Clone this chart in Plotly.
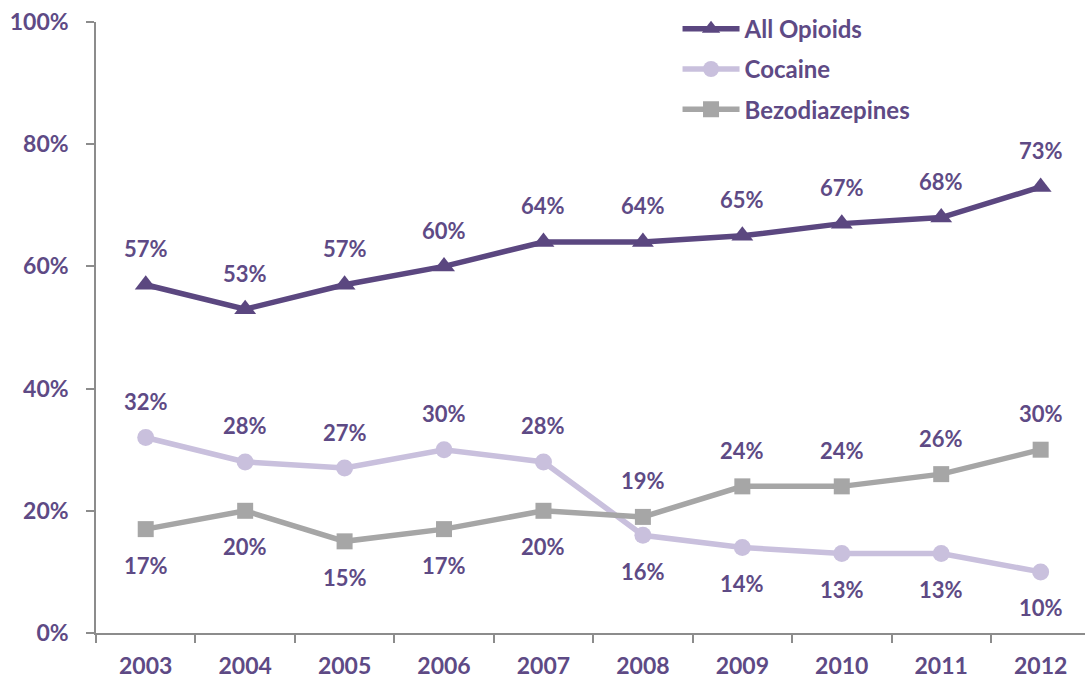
import plotly.graph_objects as go

years = ["2003", "2004", "2005", "2006", "2007", "2008", "2009", "2010", "2011", "2012"]
opioids = [57, 53, 57, 60, 64, 64, 65, 67, 68, 73]
cocaine = [32, 28, 27, 30, 28, 16, 14, 13, 13, 10]
benzo = [17, 20, 15, 17, 20, 19, 24, 24, 26, 30]
# label placement: 1 above, -1 below
opioid_pos = [1, 1, 1, 1, 1, 1, 1, 1, 1, 1]
cocaine_pos = [1, 1, 1, 1, 1, -1, -1, -1, -1, -1]
benzo_pos = [-1, -1, -1, -1, -1, 1, 1, 1, 1, 1]

TXT = "#5E4A85"
FONT = "Lato"

fig = go.Figure()
series = [
    ("All Opioids", opioids, opioid_pos, "#5B4780", dict(symbol="triangle-up", size=19)),
    ("Cocaine", cocaine, cocaine_pos, "#C9C0DD", dict(symbol="circle", size=17)),
    ("Bezodiazepines", benzo, benzo_pos, "#A6A6A6", dict(symbol="square", size=16)),
]
for i, (name, vals, pos, color, mk) in enumerate(series):
    fig.add_trace(go.Scatter(
        x=years, y=vals, name=name, mode="lines+markers",
        line=dict(color=color, width=5.5),
        marker=dict(color=color, **mk),
        legendgroup=f"g{i}",
    ))
    for j, (v, p) in enumerate(zip(vals, pos)):
        fig.add_annotation(
            x=j, y=v, xref="x", yref="y", text=f"{v}%", showarrow=False,
            yshift=36 * p, font=dict(family=FONT, size=22, color=TXT, weight="bold"),
        )

fig.update_layout(
    width=1085, height=681,
    margin=dict(l=96, r=0, t=22, b=48),
    plot_bgcolor="white", paper_bgcolor="white",
    font=dict(family=FONT, size=22, color=TXT, weight="bold"),
    showlegend=True,
    legend=dict(
        x=0.588, y=1.025, xanchor="left", yanchor="top",
        font=dict(family=FONT, size=24, color=TXT, weight="bold"),
        itemwidth=57, tracegroupgap=6, bgcolor="rgba(0,0,0,0)",
        traceorder="grouped",
    ),
    xaxis=dict(
        type="category", range=[-0.5, 9.446],
        showgrid=False, showline=True, linecolor="#8C8C8C", linewidth=1.5,
        ticks="outside", tickson="boundaries", ticklen=8, tickcolor="#8C8C8C", tickwidth=1.5,
        ticklabelstandoff=12,
        tickfont=dict(family=FONT, size=23, color=TXT, weight="bold"),
    ),
    yaxis=dict(
        range=[0, 100], dtick=20, ticksuffix="%",
        showgrid=False, zeroline=False, showline=True, linecolor="#8C8C8C", linewidth=1.5,
        ticks="outside", ticklen=8, tickcolor="#8C8C8C", tickwidth=1.5,
        ticklabelstandoff=13,
        tickfont=dict(family=FONT, size=23, color=TXT, weight="bold"),
    ),
)

fig.write_html("out.html")
